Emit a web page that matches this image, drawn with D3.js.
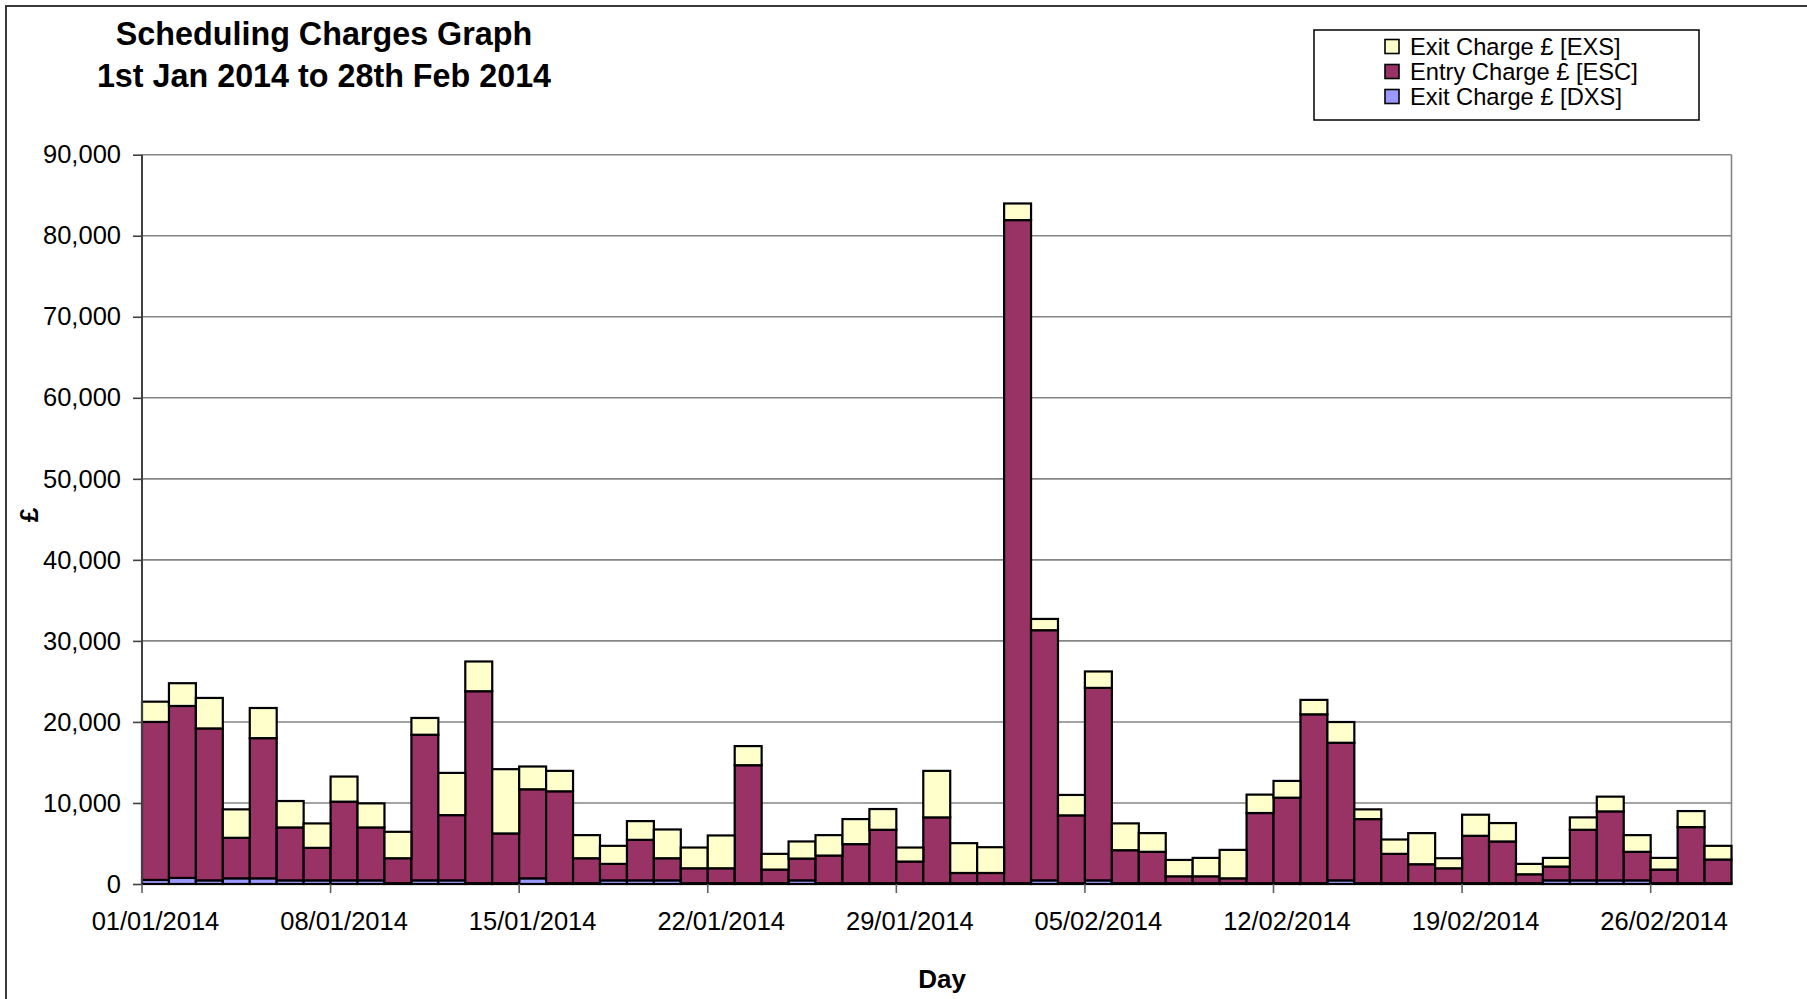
<!DOCTYPE html>
<html>
<head>
<meta charset="utf-8">
<script src="https://cdn.jsdelivr.net/npm/d3@7/dist/d3.min.js"></script>
<style>
  html, body { margin: 0; padding: 0; background: #fff; }
  svg { display: block; }
  text { font-family: "Liberation Sans", Arial, Helvetica, sans-serif; fill: #000; }
</style>
</head>
<body>
<svg id="chart" width="1807" height="999"></svg>
<script>
// ---------- DATA ----------
const days = [
  "01/01/2014","02/01/2014","03/01/2014","04/01/2014","05/01/2014","06/01/2014","07/01/2014",
  "08/01/2014","09/01/2014","10/01/2014","11/01/2014","12/01/2014","13/01/2014","14/01/2014",
  "15/01/2014","16/01/2014","17/01/2014","18/01/2014","19/01/2014","20/01/2014","21/01/2014",
  "22/01/2014","23/01/2014","24/01/2014","25/01/2014","26/01/2014","27/01/2014","28/01/2014",
  "29/01/2014","30/01/2014","31/01/2014","01/02/2014","02/02/2014","03/02/2014","04/02/2014",
  "05/02/2014","06/02/2014","07/02/2014","08/02/2014","09/02/2014","10/02/2014","11/02/2014",
  "12/02/2014","13/02/2014","14/02/2014","15/02/2014","16/02/2014","17/02/2014","18/02/2014",
  "19/02/2014","20/02/2014","21/02/2014","22/02/2014","23/02/2014","24/02/2014","25/02/2014",
  "26/02/2014","27/02/2014","28/02/2014"
];

// Exit Charge £ [DXS]
const dxs = [
  500, 750, 450, 700, 700, 450, 450, 450, 450, 100, 450, 450, 100, 100,
  700, 100, 100, 450, 450, 450, 100, 100, 100, 100, 450, 100, 100, 100,
  100, 100, 100, 100, 100, 450, 100, 450, 100, 100, 100, 100, 100, 100,
  100, 100, 450, 100, 100, 100, 100, 100, 100, 100, 450, 450, 450, 450,
  100, 100, 100
];
// Entry Charge £ [ESC]
const esc = [
  19500, 21220, 18750, 5000, 17300, 6530, 4010, 9710, 6530, 3080, 17970, 8050, 23690, 6140,
  10990, 11340, 3080, 2030, 5000, 2730, 1840, 1840, 14560, 1680, 2690, 3410, 4820, 6590,
  2670, 8120, 1260, 1260, 81830, 30870, 8370, 23750, 4070, 3870, 850, 850, 600, 8660,
  10550, 20840, 16980, 7910, 3620, 2340, 1840, 5850, 5150, 1100, 1700, 6240, 8510, 3520,
  1680, 6920, 2920
];
// Exit Charge £ [EXS]
const exs = [
  2500, 2810, 3760, 3510, 3720, 3260, 3015, 3100, 2970, 3260, 2070, 5210, 3670, 7930,
  2810, 2520, 2850, 2230, 2310, 3550, 2560, 4050, 2360, 1940, 2110, 2520, 3090, 2560,
  1730, 5740, 3680, 3180, 2050, 1390, 2520, 2030, 3310, 2310, 2020, 2270, 3510, 2270,
  2070, 1780, 2560, 1200, 1770, 3840, 1240, 2600, 2270, 1280, 1070, 1530, 1820, 2060,
  1440, 1980, 1690
];

const seriesKeys   = ["dxs", "esc", "exs"];
const seriesNames  = ["Exit Charge £ [DXS]", "Entry Charge £ [ESC]", "Exit Charge £ [EXS]"];
const seriesColors = ["#9999FF", "#993366", "#FFFFCC"];

const yTicks = [0, 10000, 20000, 30000, 40000, 50000, 60000, 70000, 80000, 90000];
const xTickLabels = ["01/01/2014","08/01/2014","15/01/2014","22/01/2014","29/01/2014",
                     "05/02/2014","12/02/2014","19/02/2014","26/02/2014"];

const titleLines = ["Scheduling Charges Graph", "1st Jan 2014 to 28th Feb 2014"];
const xTitle = "Day";
const yTitle = "£";

// ---------- LAYOUT ----------
const W = 1807, H = 999;
const plot = { left: 142, right: 1731.5, top: 154.7, bottom: 884 };

const svg = d3.select("#chart");
svg.append("rect").attr("x", 0).attr("y", 0).attr("width", W).attr("height", H).attr("fill", "#fff");

// outer frame
svg.append("rect")
  .attr("x", 6).attr("y", 6).attr("width", 1900).attr("height", 1100)
  .attr("fill", "none").attr("stroke", "#3a3a3a").attr("stroke-width", 2);

const table = days.map((d, i) => ({ day: d, dxs: dxs[i], esc: esc[i], exs: exs[i] }));

const x = d3.scaleBand().domain(days).range([plot.left, plot.right]).paddingInner(0).paddingOuter(0);
const y = d3.scaleLinear().domain([0, 90000]).range([plot.bottom, plot.top]);

// gridlines
svg.append("g").selectAll("line").data(yTicks.filter(t => t > 0)).join("line")
  .attr("x1", plot.left).attr("x2", plot.right)
  .attr("y1", d => y(d)).attr("y2", d => y(d))
  .attr("stroke", "#858585").attr("stroke-width", 1.6);

// right border of plot area
svg.append("line")
  .attr("x1", plot.right).attr("x2", plot.right).attr("y1", plot.top).attr("y2", plot.bottom)
  .attr("stroke", "#858585").attr("stroke-width", 1.6);

// bars
const stack = d3.stack().keys(seriesKeys)(table);
const layers = svg.append("g").selectAll("g").data(stack).join("g")
  .attr("fill", (d, i) => seriesColors[i]);
layers.selectAll("rect").data(d => d).join("rect")
  .attr("x", d => x(d.data.day))
  .attr("width", x.bandwidth())
  .attr("y", d => y(d[1]))
  .attr("height", d => y(d[0]) - y(d[1]))
  .attr("stroke", "#000").attr("stroke-width", 2.2);

// y axis
const yAxis = svg.append("g").attr("transform", `translate(${plot.left},0)`)
  .call(d3.axisLeft(y).tickValues(yTicks).tickFormat(d3.format(",")).tickSize(9).tickPadding(12));
yAxis.select(".domain").attr("stroke", "#404040").attr("stroke-width", 2)
  .attr("d", `M0,${plot.top}V${plot.bottom}`);
yAxis.selectAll(".tick line").attr("stroke", "#404040").attr("stroke-width", 1.6);
yAxis.selectAll(".tick text").attr("font-size", 25.5).attr("font-family", "Liberation Sans, Arial, sans-serif");

// x axis
const bw = x.bandwidth();
const xAxis = svg.append("g").attr("transform", `translate(0,${plot.bottom})`)
  .call(d3.axisBottom(x).tickValues(xTickLabels).tickSize(9).tickPadding(19));
xAxis.select(".domain").attr("stroke", "#000").attr("stroke-width", 2.2)
  .attr("d", `M${plot.left},0H${plot.right}`);
xAxis.selectAll(".tick line").attr("x1", -bw / 2).attr("x2", -bw / 2)
  .attr("stroke", "#606060").attr("stroke-width", 1.6);
xAxis.selectAll(".tick text").attr("font-size", 25.5).attr("font-family", "Liberation Sans, Arial, sans-serif");

// titles
svg.append("text").attr("x", 324).attr("y", 45).attr("text-anchor", "middle")
  .attr("font-size", 32.3).attr("font-weight", "bold").text(titleLines[0]);
svg.append("text").attr("x", 324).attr("y", 87).attr("text-anchor", "middle")
  .attr("font-size", 32.3).attr("font-weight", "bold").text(titleLines[1]);

svg.append("text").attr("x", 942).attr("y", 988).attr("text-anchor", "middle")
  .attr("font-size", 26).attr("font-weight", "bold").text(xTitle);

svg.append("text").attr("transform", "translate(38,515) rotate(-90)").attr("text-anchor", "middle")
  .attr("font-size", 26).attr("font-weight", "bold").text(yTitle);

// legend
const lg = svg.append("g");
lg.append("rect").attr("x", 1314).attr("y", 30).attr("width", 385).attr("height", 90)
  .attr("fill", "#fff").attr("stroke", "#000").attr("stroke-width", 1.5);
const legendOrder = [2, 1, 0];
legendOrder.forEach((si, r) => {
  const cy = 46.5 + r * 25;
  lg.append("rect").attr("x", 1385).attr("y", cy - 7).attr("width", 14).attr("height", 14)
    .attr("fill", seriesColors[si]).attr("stroke", "#000").attr("stroke-width", 1.6);
  lg.append("text").attr("x", 1410).attr("y", cy + 8.5).attr("font-size", 23.7).text(seriesNames[si]);
});
</script>
</body>
</html>
